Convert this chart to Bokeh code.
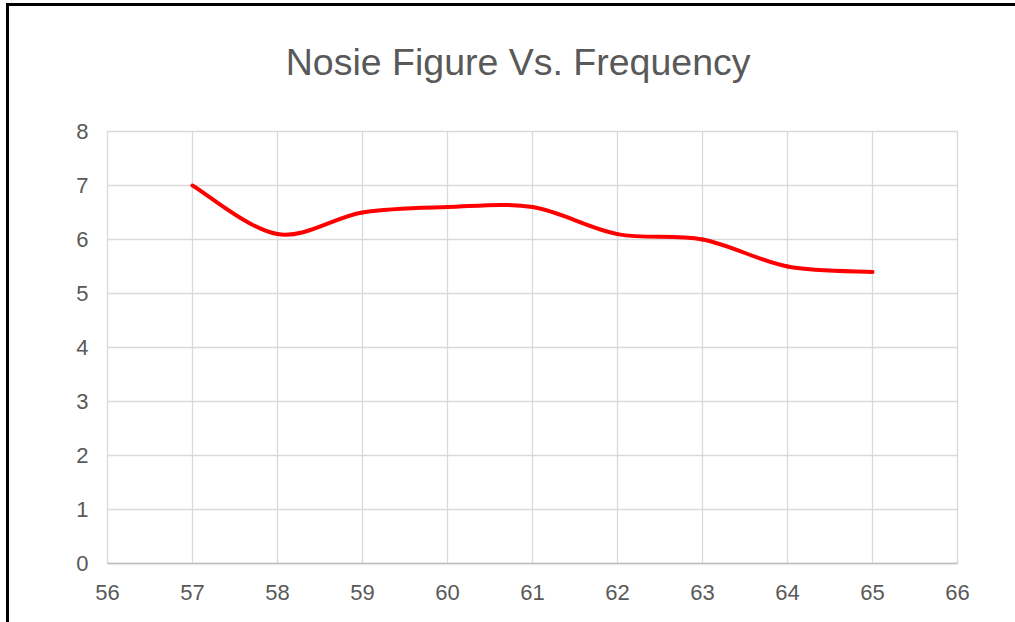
import numpy as np
from bokeh.plotting import figure
from bokeh.layouts import column
from bokeh.models import ColumnDataSource, FixedTicker, Range1d
from bokeh.core.properties import value
from bokeh.embed import file_html
from bokeh.resources import INLINE

title_text = "Nosie Figure Vs. Frequency"
frequency = [57, 58, 59, 60, 61, 62, 63, 64, 65]
noise_figure = [7.0, 6.1, 6.5, 6.6, 6.6, 6.1, 6.0, 5.5, 5.4]
x_ticks = [56, 57, 58, 59, 60, 61, 62, 63, 64, 65, 66]
y_ticks = [0, 1, 2, 3, 4, 5, 6, 7, 8]

GREY = "#595959"
GRID = "#d9d9d9"
FONT = "Liberation Sans"

OFF_X, OFF_Y = 9, 6   # margin + black border of the chart box
W = 1015 - OFF_X
HEAD_H = 100

# ---- title strip ----
head = figure(width=W, height=HEAD_H, x_range=Range1d(0, W), y_range=Range1d(0, HEAD_H),
              output_backend="svg", toolbar_location=None, min_border=0,
              min_border_left=0, min_border_right=0, min_border_top=0, min_border_bottom=0,
              x_axis_location=None, y_axis_location=None)
head.grid.visible = False
head.outline_line_color = None
head.background_fill_color = "white"
head.border_fill_color = "white"
head.text(x=[486], y=[45], text=[title_text],
          text_align="center", text_baseline="alphabetic",
          text_font=value(FONT), text_font_size="37.5px", text_color=GREY)

# ---- main chart ----
p = figure(width=W, height=622 - OFF_Y - HEAD_H,
           x_range=Range1d(56, 66), y_range=Range1d(0, 8),
           output_backend="svg", toolbar_location=None,
           min_border_left=107 - OFF_X, min_border_right=58,
           min_border_top=131 - OFF_Y - HEAD_H, min_border_bottom=59)
p.background_fill_color = "white"
p.border_fill_color = "white"
p.outline_line_color = GRID
p.outline_line_width = 1.3

for ax, ticks in ((p.xaxis[0], x_ticks), (p.yaxis[0], y_ticks)):
    ax.ticker = FixedTicker(ticks=ticks)
    ax.major_tick_out = 0
    ax.major_tick_in = 0
    ax.minor_tick_out = 0
    ax.minor_tick_in = 0
    ax.major_label_text_font = FONT
    ax.major_label_text_font_size = "22px"
    ax.major_label_text_color = GREY
p.xaxis.axis_line_color = "#bfbfbf"
p.xaxis.axis_line_width = 1.3
p.yaxis.axis_line_color = None
p.xaxis.major_label_standoff = 21
p.yaxis.major_label_standoff = 19

p.xgrid.ticker = FixedTicker(ticks=x_ticks)
p.ygrid.ticker = FixedTicker(ticks=y_ticks)
p.grid.grid_line_color = GRID
p.grid.grid_line_width = 1.3

# Excel-style smoothed line: cubic Bezier segments (Catmull-Rom control points)
x = np.array(frequency, dtype=float)
y = np.array(noise_figure, dtype=float)
xp = np.concatenate([[x[0]], x, [x[-1]]])
yp = np.concatenate([[y[0]], y, [y[-1]]])
n = len(x)
x0 = x[:-1]; y0 = y[:-1]; x1 = x[1:]; y1 = y[1:]
cx0 = x0 + (xp[2:n + 1] - xp[0:n - 1]) / 6.0
cy0 = y0 + (yp[2:n + 1] - yp[0:n - 1]) / 6.0
cx1 = x1 - (xp[3:n + 2] - xp[1:n]) / 6.0
cy1 = y1 - (yp[3:n + 2] - yp[1:n]) / 6.0
src = ColumnDataSource(dict(x0=x0, y0=y0, x1=x1, y1=y1,
                            cx0=cx0, cy0=cy0, cx1=cx1, cy1=cy1))
p.bezier(x0="x0", y0="y0", x1="x1", y1="y1", cx0="cx0", cy0="cy0",
         cx1="cx1", cy1="cy1", source=src, line_color="#ff0000",
         line_width=4, line_cap="round")

layout = column(head, p, spacing=0)
layout.styles = {"margin-left": "5.5px", "margin-top": "2.7px",
                 "border-left": "3.5px solid black",
                 "border-top": "3.3px solid black",
                 "border-right": "none", "border-bottom": "none"}

open("out.html", "w").write(file_html(layout, INLINE))
